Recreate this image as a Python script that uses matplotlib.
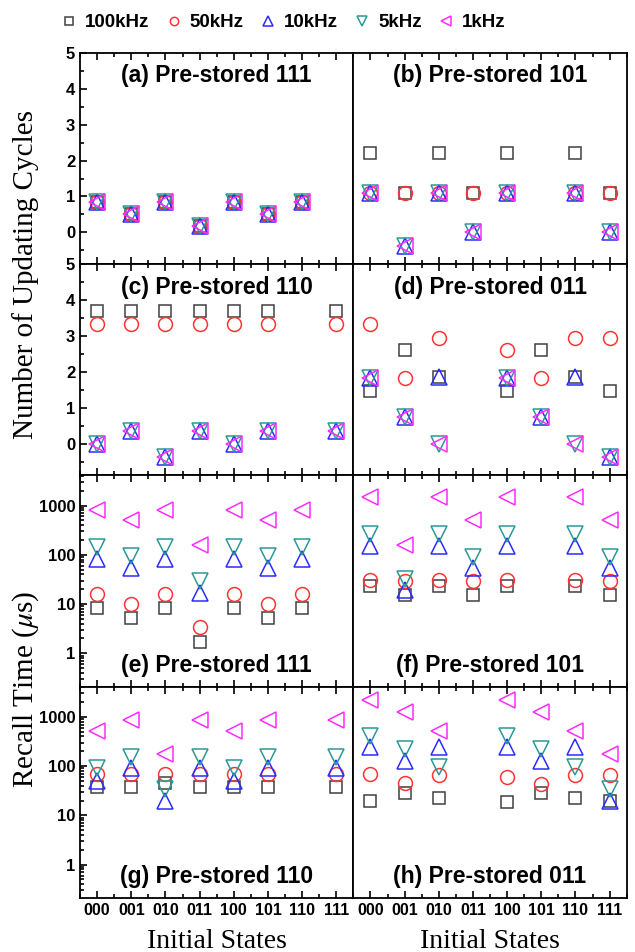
import matplotlib
matplotlib.use('Agg')
import matplotlib.pyplot as plt
import numpy as np
from matplotlib.ticker import MultipleLocator, LogLocator, FixedLocator

nan = np.nan
states = ['000', '001', '010', '011', '100', '101', '110', '111']
freqs = ['100kHz', '50kHz', '10kHz', '5kHz', '1kHz']

# number of updating cycles: rows = 100k, 50k, 10k, 5k, 1k
cyc_a = [[0.84, 0.51, 0.84, 0.18, 0.84, 0.51, 0.84, nan]] * 5
cyc_b = [[2.22, 1.09, 2.22, 1.09, 2.22, nan, 2.22, 1.09],
         [1.09, 1.09, 1.09, 1.09, 1.09, nan, 1.09, 1.09],
         [1.09, -0.37, 1.09, 0.0, 1.09, nan, 1.09, 0.0],
         [1.09, -0.37, 1.09, 0.0, 1.09, nan, 1.09, 0.0],
         [1.09, -0.37, 1.09, 0.0, 1.09, nan, 1.09, 0.0]]
cyc_c = [[3.70, 3.70, 3.70, 3.70, 3.70, 3.70, nan, 3.70],
         [3.32, 3.32, 3.32, 3.32, 3.32, 3.32, nan, 3.32],
         [0.0, 0.36, -0.38, 0.36, 0.0, 0.36, nan, 0.36],
         [0.0, 0.36, -0.38, 0.36, 0.0, 0.36, nan, 0.36],
         [0.0, 0.36, -0.38, 0.36, 0.0, 0.36, nan, 0.36]]
cyc_d = [[1.46, 2.60, 1.85, nan, 1.46, 2.60, 1.85, 1.46],
         [3.32, 1.83, 2.95, nan, 2.60, 1.83, 2.95, 2.95],
         [1.83, 0.74, 1.85, nan, 1.83, 0.74, 1.85, -0.38],
         [1.83, 0.74, 0.0, nan, 1.83, 0.74, 0.0, -0.38],
         [1.83, 0.74, 0.0, nan, 1.83, 0.74, 0.0, -0.38]]

# recall time (us)
rt_e = [[8.3, 5.3, 8.3, 1.7, 8.3, 5.3, 8.3, nan],
        [16.3, 10, 16.3, 3.4, 16.3, 10, 16.3, nan],
        [84, 55, 84, 17, 84, 55, 84, nan],
        [144, 95, 144, 30, 144, 95, 144, nan],
        [810, 500, 810, 160, 810, 500, 810, nan]]
rt_f = [[23, 15, 23, 15, 23, nan, 23, 15],
        [31, 30, 31, 30, 31, nan, 31, 30],
        [152, 19, 152, 55, 152, nan, 152, 55],
        [263, 32, 263, 91, 263, nan, 263, 91],
        [1470, 160, 1470, 500, 1470, nan, 1470, 500]]
rt_g = [[38, 38, 45, 38, 38, 38, nan, 38],
        [70, 68, 70, 68, 70, 68, nan, 68],
        [49, 93, 19.5, 93, 49, 93, nan, 93],
        [93, 155, 34, 155, 93, 155, nan, 155],
        [520, 860, 180, 860, 520, 860, nan, 860]]
rt_h = [[19.5, 29, 23, nan, 18.6, 29, 23, 20],
        [70, 46, 65, nan, 60, 44, 65, 65],
        [240, 125, 240, nan, 240, 125, 240, 19.5],
        [410, 220, 98, nan, 410, 220, 98, 34],
        [2200, 1230, 520, nan, 2200, 1230, 520, 178]]

titles = ['(a) Pre-stored 111', '(b) Pre-stored 101', '(c) Pre-stored 110', '(d) Pre-stored 011',
          '(e) Pre-stored 111', '(f) Pre-stored 101', '(g) Pre-stored 110', '(h) Pre-stored 011']

markers = ['s', 'o', '^', 'v', '<']
colors = ['#404040', '#ff3333', '#2b2bff', '#2a9a96', '#ff2bff']
msizes = [9, 10, 11, 11, 11]

plt.rcParams['font.family'] = 'Liberation Sans'
plt.rcParams['mathtext.fontset'] = 'stix'

fig = plt.figure(figsize=(6.35, 9.52), dpi=100)
gs = fig.add_gridspec(4, 2, left=0.126, right=0.987, top=0.9446, bottom=0.0567,
                      hspace=0, wspace=0)

data = [cyc_a, cyc_b, cyc_c, cyc_d, rt_e, rt_f, rt_g, rt_h]
x = np.arange(8)
handles = []
for k in range(8):
    r, c = k // 2, k % 2
    ax = fig.add_subplot(gs[r, c])
    for i in range(5):
        h, = ax.plot(x, data[k][i], linestyle='none', marker=markers[i], mfc='none',
                     mec=colors[i], mew=1.1, ms=msizes[i])
        if k == 0:
            handles.append(h)
    ax.set_xlim(-0.5, 7.5)
    ax.xaxis.set_major_locator(FixedLocator(x))
    ax.xaxis.set_minor_locator(MultipleLocator(0.5))
    if r < 2:
        ax.set_ylim(-0.88, 5)
        yt = [0, 1, 2, 3, 4, 5]
        ax.yaxis.set_major_locator(FixedLocator(yt))
        ax.yaxis.set_minor_locator(MultipleLocator(0.5))
    else:
        ax.set_yscale('log')
        ax.set_ylim(0.21, 4100)
        yt = [1, 10, 100, 1000]
        ax.yaxis.set_major_locator(FixedLocator(yt))
        ax.yaxis.set_minor_locator(LogLocator(base=10, subs=np.arange(2, 10), numticks=20))
    ax.tick_params(which='both', direction='in', top=True, right=False, width=1.2)
    ax.tick_params(which='major', length=5)
    ax.tick_params(which='minor', length=3)
    for s in ax.spines.values():
        s.set_linewidth(1.3)
    if c == 0:
        ax.set_yticklabels([str(v) for v in yt], fontsize=12, fontweight='bold')
        ax.yaxis.set_minor_formatter(plt.NullFormatter())
    else:
        ax.tick_params(axis='y', which='both', left=False, labelleft=False)
    if r == 3:
        ax.set_xticklabels(states, fontsize=11.5, fontweight='bold')
    else:
        ax.tick_params(labelbottom=False)
    ty = 0.89 if r < 2 else 0.10
    ax.text(0.5, ty, titles[k], transform=ax.transAxes, ha='center', va='center',
            fontsize=16.5, fontweight='bold')
    if r == 3:
        ax.text(0.5, -0.205, 'Initial States', transform=ax.transAxes, ha='center',
                va='center', fontsize=20, family='Liberation Serif')

fig.text(0.04, 0.712, 'Number of Updating Cycles', rotation=90, ha='center', va='center',
         fontsize=21, family='Liberation Serif')
fig.text(0.04, 0.276, r'Recall Time ($\mu$s)', rotation=90, ha='center', va='center',
         fontsize=21, family='Liberation Serif')

fig.legend(handles, freqs, loc='upper center', bbox_to_anchor=(0.445, 1.003), ncol=5,
           frameon=False, markerscale=0.6, handlelength=1.0, handletextpad=0.35,
           columnspacing=0.8, prop={'weight': 'bold', 'size': 13.5})

fig.savefig('out.png', dpi=100)
